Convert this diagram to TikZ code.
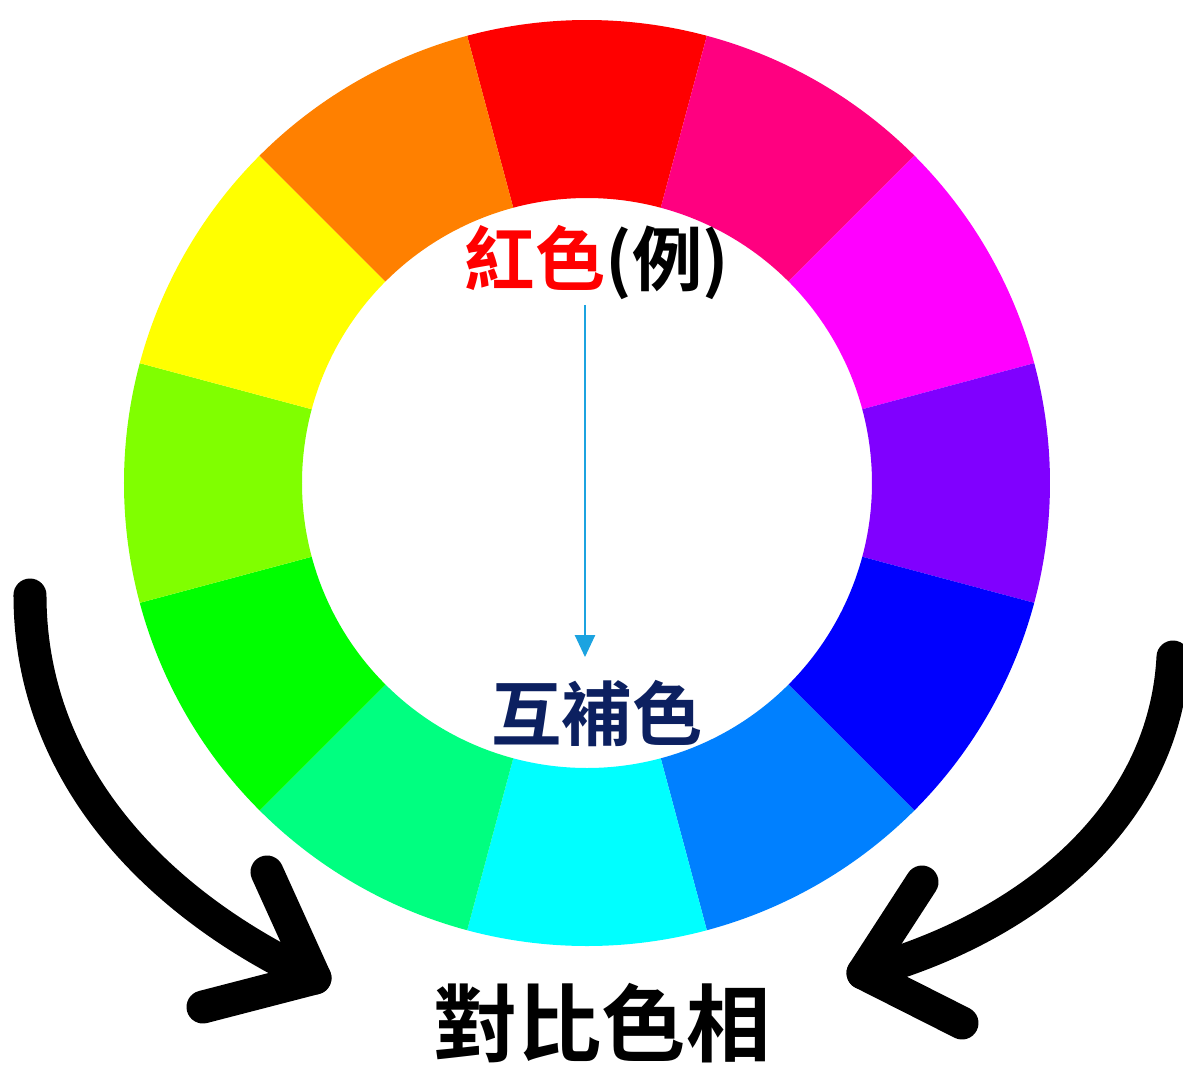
\documentclass[tikz,border=0pt]{standalone}
\usepackage{fontspec}
\newfontfamily\cjk{Noto Sans CJK TC}[BoldFont={Noto Sans CJK TC Bold}]
\usetikzlibrary{positioning, arrows.meta, calc}

\definecolor{wheelred}{HTML}{FF0000}
\definecolor{wheelrose}{HTML}{FF0080}
\definecolor{wheelmagenta}{HTML}{FF00FF}
\definecolor{wheelviolet}{HTML}{8000FF}
\definecolor{wheelblue}{HTML}{0000FF}
\definecolor{wheelazure}{HTML}{0080FF}
\definecolor{wheelcyan}{HTML}{00FFFF}
\definecolor{wheelspring}{HTML}{00FF80}
\definecolor{wheelgreen}{HTML}{00FF00}
\definecolor{wheelchart}{HTML}{80FF00}
\definecolor{wheelyellow}{HTML}{FFFF00}
\definecolor{wheelorange}{HTML}{FF8000}
\definecolor{compnavy}{RGB}{12,32,96}
\definecolor{pointblue}{RGB}{28,163,224}

\begin{document}
\begin{tikzpicture}[
  label/.style={inner sep=0pt, font=\cjk\bfseries\fontsize{20pt}{20pt}\selectfont},
  biglabel/.style={inner sep=0pt, font=\cjk\bfseries\fontsize{24pt}{24pt}\selectfont},
  thinarrow/.style={draw=pointblue, line width=0.7pt, -{Triangle[length=2.2mm, width=2mm]}},
  bigarrow/.style={draw=black, line width=3.3mm, line cap=round, line join=round}
]
\useasboundingbox (-5.87,4.83) rectangle (5.96,-5.81);

% Colour wheel
\foreach \ang/\col in {90/wheelred, 60/wheelrose, 30/wheelmagenta, 0/wheelviolet,
    -30/wheelblue, -60/wheelazure, -90/wheelcyan, -120/wheelspring,
    -150/wheelgreen, 180/wheelchart, 150/wheelyellow, 120/wheelorange} {
  \fill[\col] (\ang-15:4.63) arc[start angle=\ang-15, end angle=\ang+15, radius=4.63]
    -- (\ang+15:2.85) arc[start angle=\ang+15, end angle=\ang-15, radius=2.85] -- cycle;
}

% Labels inside the wheel
\node[label] (red) at (0.10,2.21) {\textcolor{wheelred}{紅色}(例)};
\node[label, text=compnavy] (comp) at (0.10,-2.30) {互補色};
\coordinate (mid) at (-0.02,0);
\draw[thinarrow] ($(red.south -| mid)+(0,-0.05)$) -- ($(comp.north -| mid)+(0,0.22)$);

% Label below
\node[biglabel] (contrast) at (0.15,-5.40) {對比色相};

% Big curved arrows
\coordinate (lstart) at (-5.57,-1.12);
\coordinate (ltip) at (-2.72,-4.95);
\coordinate (larm1) at (-3.20,-3.89);
\coordinate (larm2) at (-3.84,-5.24);
\draw[bigarrow] (lstart) to[out=-90, in=155, looseness=0.95] (ltip);
\draw[bigarrow] (larm1) -- (ltip) -- (larm2);

\coordinate (rstart) at (5.86,-1.74);
\coordinate (rtip) at (2.76,-4.90);
\coordinate (rarm1) at (3.35,-3.99);
\coordinate (rarm2) at (3.75,-5.40);
\draw[bigarrow] (rstart) to[out=-93, in=15, looseness=0.95] (rtip);
\draw[bigarrow] (rarm1) -- (rtip) -- (rarm2);

\end{tikzpicture}
\end{document}
